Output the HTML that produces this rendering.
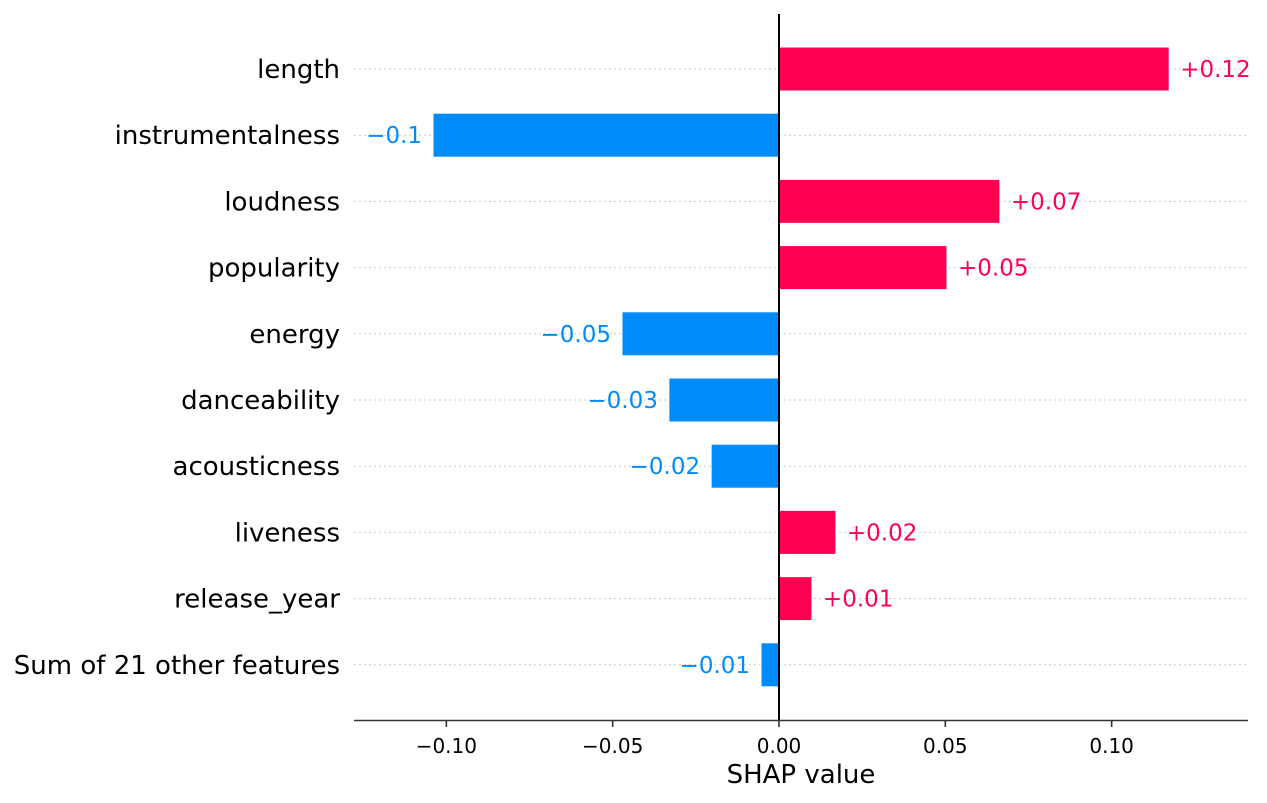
<!DOCTYPE html>
<html><head><meta charset="utf-8"><style>
html,body{margin:0;padding:0;background:#fff;}
svg{display:block;font-family:"DejaVu Sans","Liberation Sans",sans-serif;}
</style></head><body>
<svg id="chart" width="1267" height="803"></svg>
<script>
const features=["length","instrumentalness","loudness","popularity","energy","danceability","acousticness","liveness","release_year","Sum of 21 other features"];
const values=[0.1173,-0.1040,0.0664,0.0505,-0.0472,-0.0331,-0.0204,0.0171,0.0099,-0.0054];
const valueLabels=["+0.12","\u22120.1","+0.07","+0.05","\u22120.05","\u22120.03","\u22120.02","+0.02","+0.01","\u22120.01"];
const ticks=[-0.10,-0.05,0.00,0.05,0.10];
const tickLabels=["\u22120.10","\u22120.05","0.00","0.05","0.10"];

const NS="http://www.w3.org/2000/svg";
const svg=document.getElementById('chart');
const x0=779, scale=3326.5;
const xs=v=>x0+v*scale;
const ys=i=>69+i*66.2;
const barH=44;
function mk(tag,attrs,parent){const e=document.createElementNS(NS,tag);for(const k in attrs)e.setAttribute(k,attrs[k]);(parent||svg).appendChild(e);return e;}

features.forEach((f,i)=>{
  const y=ys(i);
  const g=mk('line',{x1:354,x2:1246,y1:y,y2:y,stroke:'#c8c8c8','stroke-width':1,'stroke-dasharray':'2,3'});
  
  
  const t=mk('text',{x:340,y:y+9,'text-anchor':'end','font-size':26,fill:'#000'});
  t.textContent=f;
  
  
  const v=values[i];
  const col=v>=0?'#ff0051':'#008bfb';
  const xa=xs(Math.min(0,v)), xb=xs(Math.max(0,v));
  const r=mk('rect',{x:xa,y:y-barH/2,width:xb-xa,height:barH,fill:col,stroke:'#fff','stroke-width':1});
  
  
  const lt=mk('text',{x:v>=0?xb+11:xa-11,y:y+8,'text-anchor':v>=0?'start':'end','font-size':23,fill:col});
  lt.textContent=valueLabels[i];
  
  
});

const zl=mk('line',{x1:x0,x2:x0,y1:14,y2:720,stroke:'#000','stroke-width':2});


const ax=mk('line',{x1:354,x2:1248,y1:720.5,y2:720.5,stroke:'#333','stroke-width':1.6});


ticks.forEach((t,i)=>{
  const x=xs(t);
  const tk=mk('line',{x1:x,x2:x,y1:720,y2:727,stroke:'#333','stroke-width':1.6});
  
  
  const tl=mk('text',{x:x,y:753,'text-anchor':'middle','font-size':20,fill:'#000'});
  tl.textContent=tickLabels[i];
  
  
});
const xt=mk('text',{x:801,y:783,'text-anchor':'middle','font-size':26,fill:'#000'});
xt.textContent='SHAP value';


</script>
</body></html>
